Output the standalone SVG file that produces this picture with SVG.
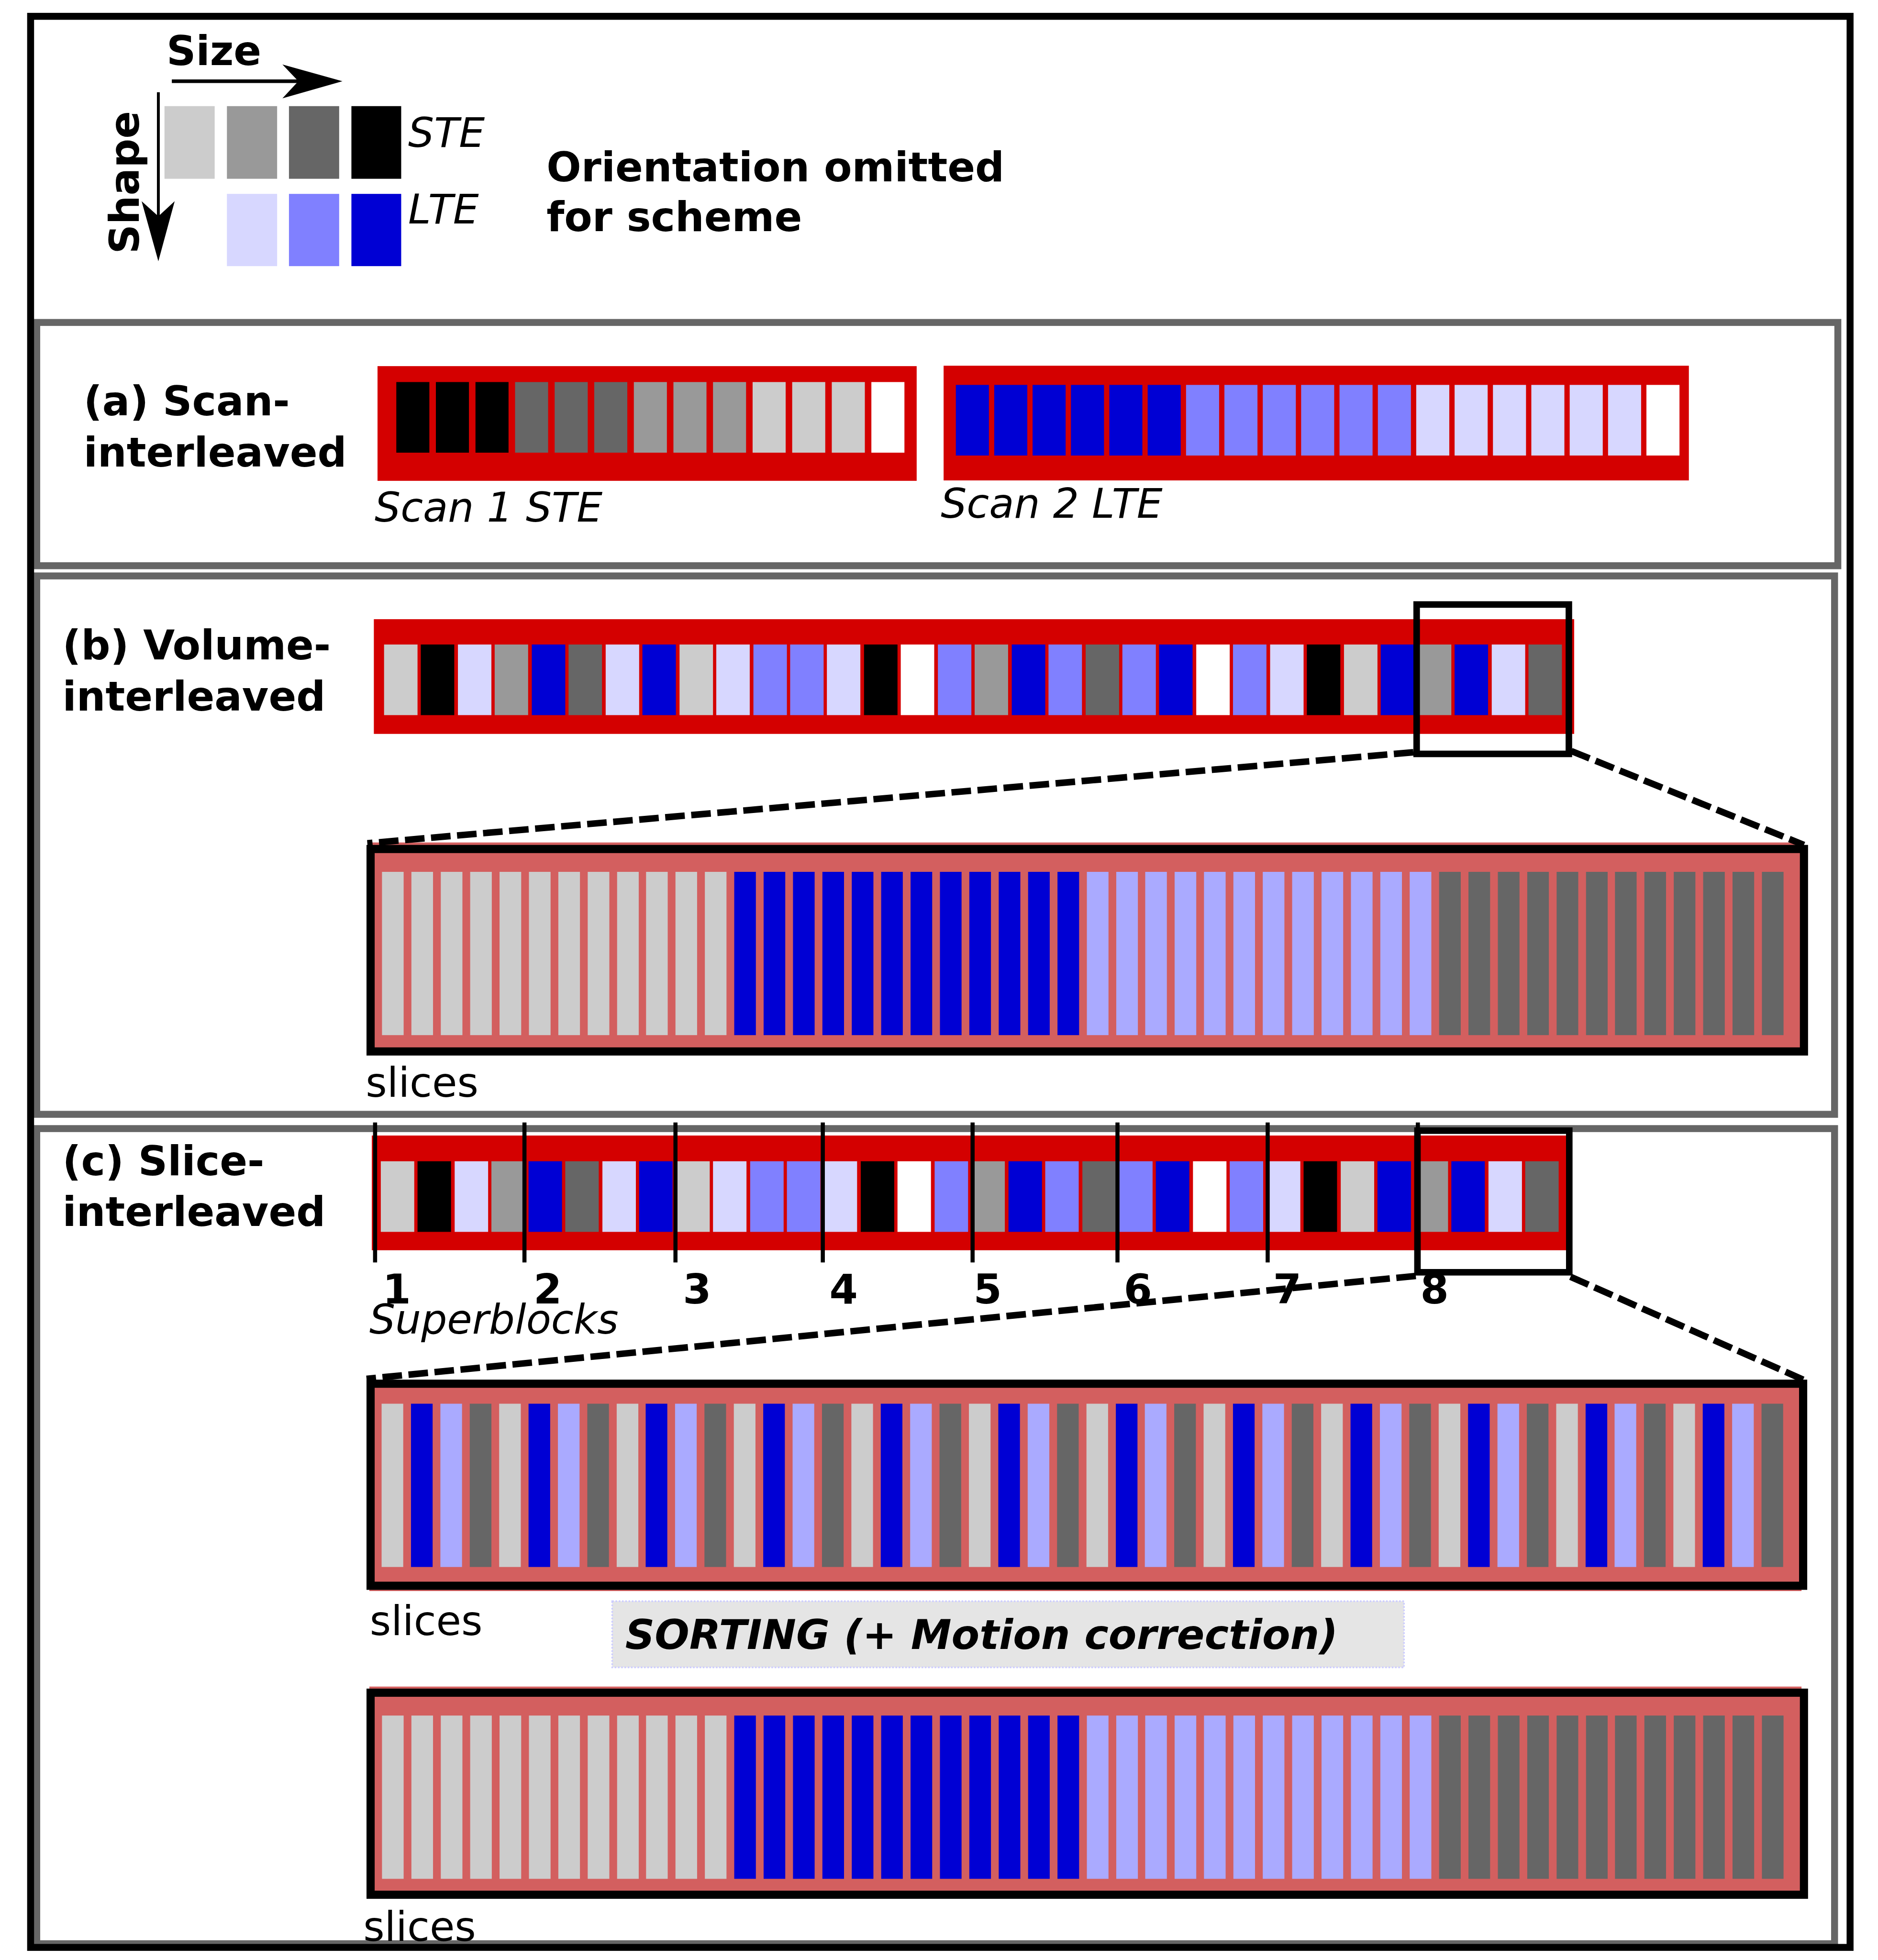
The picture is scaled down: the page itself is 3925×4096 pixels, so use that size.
<svg xmlns="http://www.w3.org/2000/svg" width="3925" height="4096" viewBox="0 0 3925 4096">
<style>
text{font-family:"DejaVu Sans","Liberation Sans",sans-serif;font-size:100px;fill:#000}
.bold{font-weight:bold}
.it{font-style:italic}
.g1{fill:#cccccc}.g2{fill:#999999}.g3{fill:#666666}.k{fill:#000000}.w{fill:#ffffff}
.b1{fill:#d7d7ff}.b2{fill:#8080ff}.b3{fill:#0000d4}.b4{fill:#aaaaff}
.red{fill:#d40000}.sal{fill:#d35f5f}
.panel{fill:none;stroke:#666666;stroke-width:17}
.outer{fill:none;stroke:#000000;stroke-width:17}
.frame{fill:none;stroke:#000000;stroke-width:20}
.zoombox{fill:none;stroke:#000000;stroke-width:16}
.dash{fill:none;stroke:#000000;stroke-width:16;stroke-dasharray:48,16}
.sb{stroke:#000000;stroke-width:10}
.sort{fill:#e5e5e5;stroke:#ccccff;stroke-width:4;stroke-dasharray:4,4}
</style>
<defs>
<g id="seq32">
<rect class="g1" x="0" width="82" height="173"/>
<rect class="k" x="90" width="82" height="173"/>
<rect class="b1" x="181" width="82" height="173"/>
<rect class="g2" x="271" width="82" height="173"/>
<rect class="b3" x="362" width="82" height="173"/>
<rect class="g3" x="452" width="82" height="173"/>
<rect class="b1" x="543" width="82" height="173"/>
<rect class="b3" x="633" width="82" height="173"/>
<rect class="g1" x="724" width="82" height="173"/>
<rect class="b1" x="814" width="82" height="173"/>
<rect class="b2" x="905" width="82" height="173"/>
<rect class="b2" x="995" width="82" height="173"/>
<rect class="b1" x="1085" width="82" height="173"/>
<rect class="k" x="1176" width="82" height="173"/>
<rect class="w" x="1266" width="82" height="173"/>
<rect class="b2" x="1357" width="82" height="173"/>
<rect class="g2" x="1447" width="82" height="173"/>
<rect class="b3" x="1538" width="82" height="173"/>
<rect class="b2" x="1628" width="82" height="173"/>
<rect class="g3" x="1719" width="82" height="173"/>
<rect class="b2" x="1809" width="82" height="173"/>
<rect class="b3" x="1899" width="82" height="173"/>
<rect class="w" x="1990" width="82" height="173"/>
<rect class="b2" x="2080" width="82" height="173"/>
<rect class="b1" x="2171" width="82" height="173"/>
<rect class="k" x="2261" width="82" height="173"/>
<rect class="g1" x="2352" width="82" height="173"/>
<rect class="b3" x="2442" width="82" height="173"/>
<rect class="g2" x="2533" width="82" height="173"/>
<rect class="b3" x="2623" width="82" height="173"/>
<rect class="b1" x="2714" width="82" height="173"/>
<rect class="g3" x="2804" width="82" height="173"/>
</g>
<g id="sorted">
<rect class="g1" x="0" width="53" height="400"/>
<rect class="g1" x="72" width="53" height="400"/>
<rect class="g1" x="144" width="53" height="400"/>
<rect class="g1" x="216" width="53" height="400"/>
<rect class="g1" x="288" width="53" height="400"/>
<rect class="g1" x="360" width="53" height="400"/>
<rect class="g1" x="432" width="53" height="400"/>
<rect class="g1" x="504" width="53" height="400"/>
<rect class="g1" x="576" width="53" height="400"/>
<rect class="g1" x="647" width="53" height="400"/>
<rect class="g1" x="719" width="53" height="400"/>
<rect class="g1" x="791" width="53" height="400"/>
<rect class="b3" x="863" width="53" height="400"/>
<rect class="b3" x="935" width="53" height="400"/>
<rect class="b3" x="1007" width="53" height="400"/>
<rect class="b3" x="1079" width="53" height="400"/>
<rect class="b3" x="1151" width="53" height="400"/>
<rect class="b3" x="1223" width="53" height="400"/>
<rect class="b3" x="1295" width="53" height="400"/>
<rect class="b3" x="1367" width="53" height="400"/>
<rect class="b3" x="1439" width="53" height="400"/>
<rect class="b3" x="1511" width="53" height="400"/>
<rect class="b3" x="1583" width="53" height="400"/>
<rect class="b3" x="1655" width="53" height="400"/>
<rect class="b4" x="1727" width="53" height="400"/>
<rect class="b4" x="1799" width="53" height="400"/>
<rect class="b4" x="1870" width="53" height="400"/>
<rect class="b4" x="1942" width="53" height="400"/>
<rect class="b4" x="2014" width="53" height="400"/>
<rect class="b4" x="2086" width="53" height="400"/>
<rect class="b4" x="2158" width="53" height="400"/>
<rect class="b4" x="2230" width="53" height="400"/>
<rect class="b4" x="2302" width="53" height="400"/>
<rect class="b4" x="2374" width="53" height="400"/>
<rect class="b4" x="2446" width="53" height="400"/>
<rect class="b4" x="2518" width="53" height="400"/>
<rect class="g3" x="2590" width="53" height="400"/>
<rect class="g3" x="2662" width="53" height="400"/>
<rect class="g3" x="2734" width="53" height="400"/>
<rect class="g3" x="2806" width="53" height="400"/>
<rect class="g3" x="2878" width="53" height="400"/>
<rect class="g3" x="2950" width="53" height="400"/>
<rect class="g3" x="3021" width="53" height="400"/>
<rect class="g3" x="3093" width="53" height="400"/>
<rect class="g3" x="3165" width="53" height="400"/>
<rect class="g3" x="3237" width="53" height="400"/>
<rect class="g3" x="3309" width="53" height="400"/>
<rect class="g3" x="3381" width="53" height="400"/>
</g>
<g id="mixed">
<rect class="g1" x="0" width="53" height="400"/>
<rect class="b3" x="72" width="53" height="400"/>
<rect class="b4" x="144" width="53" height="400"/>
<rect class="g3" x="216" width="53" height="400"/>
<rect class="g1" x="288" width="53" height="400"/>
<rect class="b3" x="360" width="53" height="400"/>
<rect class="b4" x="432" width="53" height="400"/>
<rect class="g3" x="504" width="53" height="400"/>
<rect class="g1" x="576" width="53" height="400"/>
<rect class="b3" x="647" width="53" height="400"/>
<rect class="b4" x="719" width="53" height="400"/>
<rect class="g3" x="791" width="53" height="400"/>
<rect class="g1" x="863" width="53" height="400"/>
<rect class="b3" x="935" width="53" height="400"/>
<rect class="b4" x="1007" width="53" height="400"/>
<rect class="g3" x="1079" width="53" height="400"/>
<rect class="g1" x="1151" width="53" height="400"/>
<rect class="b3" x="1223" width="53" height="400"/>
<rect class="b4" x="1295" width="53" height="400"/>
<rect class="g3" x="1367" width="53" height="400"/>
<rect class="g1" x="1439" width="53" height="400"/>
<rect class="b3" x="1511" width="53" height="400"/>
<rect class="b4" x="1583" width="53" height="400"/>
<rect class="g3" x="1655" width="53" height="400"/>
<rect class="g1" x="1727" width="53" height="400"/>
<rect class="b3" x="1799" width="53" height="400"/>
<rect class="b4" x="1870" width="53" height="400"/>
<rect class="g3" x="1942" width="53" height="400"/>
<rect class="g1" x="2014" width="53" height="400"/>
<rect class="b3" x="2086" width="53" height="400"/>
<rect class="b4" x="2158" width="53" height="400"/>
<rect class="g3" x="2230" width="53" height="400"/>
<rect class="g1" x="2302" width="53" height="400"/>
<rect class="b3" x="2374" width="53" height="400"/>
<rect class="b4" x="2446" width="53" height="400"/>
<rect class="g3" x="2518" width="53" height="400"/>
<rect class="g1" x="2590" width="53" height="400"/>
<rect class="b3" x="2662" width="53" height="400"/>
<rect class="b4" x="2734" width="53" height="400"/>
<rect class="g3" x="2806" width="53" height="400"/>
<rect class="g1" x="2878" width="53" height="400"/>
<rect class="b3" x="2950" width="53" height="400"/>
<rect class="b4" x="3021" width="53" height="400"/>
<rect class="g3" x="3093" width="53" height="400"/>
<rect class="g1" x="3165" width="53" height="400"/>
<rect class="b3" x="3237" width="53" height="400"/>
<rect class="b4" x="3309" width="53" height="400"/>
<rect class="g3" x="3381" width="53" height="400"/>
</g>
</defs>
<rect x="0" y="0" width="3925" height="4096" fill="#ffffff"/>
<g transform="scale(0.853)">
<g id="panels">
<rect id="panel-a-border" class="panel" x="90" y="790" width="4413" height="596"/>
<rect id="panel-b-border" class="panel" x="90" y="1411" width="4405" height="1319"/>
<rect id="panel-c-border" class="panel" x="90" y="2765" width="4405" height="1997"/>
<rect id="outer-border" class="outer" x="75" y="40" width="4458" height="4731"/>
</g>
<g id="legend">
<text class="bold" x="408" y="160">Size</text>
<line x1="421" y1="199" x2="736" y2="199" stroke="#000" stroke-width="9"/>
<polygon points="692,158 839,199 692,241 731,199" fill="#000"/>
<line x1="388" y1="226" x2="388" y2="535" stroke="#000" stroke-width="7"/>
<polygon points="347,493 388,640 428,493 388,530" fill="#000"/>
<text class="bold" transform="translate(340,622) rotate(-90)">Shape</text>
<rect class="g1" x="403" y="260" width="123" height="178"/>
<rect class="g2" x="556" y="260" width="123" height="178"/>
<rect class="g3" x="708" y="260" width="123" height="178"/>
<rect class="k" x="861" y="260" width="122" height="178"/>
<rect class="b1" x="556" y="475" width="123" height="177"/>
<rect class="b2" x="708" y="475" width="123" height="177"/>
<rect class="b3" x="861" y="475" width="122" height="177"/>
<text class="it" x="1000" y="360">STE</text>
<text class="it" x="1000" y="548">LTE</text>
<text class="bold" x="1339" y="444">Orientation omitted</text>
<text class="bold" x="1339" y="566">for scheme</text>
</g>
<g id="panel-a">
<text class="bold" x="205" y="1018">(a) Scan-</text>
<text class="bold" x="205" y="1143">interleaved</text>
<g id="scan1">
<rect class="red" x="925" y="897" width="1321" height="281"/>
<rect class="k" x="971" y="936" width="81" height="173"/>
<rect class="k" x="1068" y="936" width="81" height="173"/>
<rect class="k" x="1165" y="936" width="81" height="173"/>
<rect class="g3" x="1262" y="936" width="81" height="173"/>
<rect class="g3" x="1359" y="936" width="81" height="173"/>
<rect class="g3" x="1456" y="936" width="81" height="173"/>
<rect class="g2" x="1553" y="936" width="81" height="173"/>
<rect class="g2" x="1650" y="936" width="81" height="173"/>
<rect class="g2" x="1747" y="936" width="81" height="173"/>
<rect class="g1" x="1844" y="936" width="81" height="173"/>
<rect class="g1" x="1941" y="936" width="81" height="173"/>
<rect class="g1" x="2038" y="936" width="81" height="173"/>
<rect class="w" x="2135" y="936" width="81" height="173"/>
</g>
<text class="it" x="918" y="1278">Scan 1 STE</text>
<g id="scan2">
<rect class="red" x="2312" y="896" width="1826" height="281"/>
<rect class="b3" x="2342" y="943" width="81" height="173"/>
<rect class="b3" x="2436" y="943" width="81" height="173"/>
<rect class="b3" x="2530" y="943" width="81" height="173"/>
<rect class="b3" x="2624" y="943" width="81" height="173"/>
<rect class="b3" x="2718" y="943" width="81" height="173"/>
<rect class="b3" x="2812" y="943" width="81" height="173"/>
<rect class="b2" x="2906" y="943" width="81" height="173"/>
<rect class="b2" x="3000" y="943" width="81" height="173"/>
<rect class="b2" x="3094" y="943" width="81" height="173"/>
<rect class="b2" x="3188" y="943" width="81" height="173"/>
<rect class="b2" x="3282" y="943" width="81" height="173"/>
<rect class="b2" x="3376" y="943" width="81" height="173"/>
<rect class="b1" x="3470" y="943" width="81" height="173"/>
<rect class="b1" x="3564" y="943" width="81" height="173"/>
<rect class="b1" x="3658" y="943" width="81" height="173"/>
<rect class="b1" x="3752" y="943" width="81" height="173"/>
<rect class="b1" x="3846" y="943" width="81" height="173"/>
<rect class="b1" x="3940" y="943" width="81" height="173"/>
<rect class="w" x="4034" y="943" width="81" height="173"/>
</g>
<text class="it" x="2305" y="1268">Scan 2 LTE</text>
</g>
<g id="panel-b">
<text class="bold" x="153" y="1616">(b) Volume-</text>
<text class="bold" x="153" y="1741">interleaved</text>
<g id="volume-bar">
<rect class="red" x="916" y="1517" width="2941" height="281"/>
<use href="#seq32" x="941" y="1579"/>
</g>
<rect id="zoom-box-b" class="zoombox" x="3471" y="1481" width="373" height="366"/>
<g id="sorted-b">
<rect class="sal" x="905" y="2064" width="3509" height="508"/>
<rect class="frame" x="908" y="2080" width="3512" height="496"/>
<use href="#sorted" x="936" y="2136"/>
</g>
<text x="896" y="2687">slices</text>
</g>
<g id="panel-c">
<text class="bold" x="153" y="2879">(c) Slice-</text>
<text class="bold" x="153" y="3004">interleaved</text>
<g id="slice-bar">
<rect class="red" x="911" y="2782" width="2932" height="281"/>
<use href="#seq32" x="933" y="2845"/>
</g>
<g id="superblock-lines">
<line class="sb" x1="919" y1="2750" x2="919" y2="3093"/>
<line class="sb" x1="1285" y1="2750" x2="1285" y2="3093"/>
<line class="sb" x1="1655" y1="2750" x2="1655" y2="3093"/>
<line class="sb" x1="2016" y1="2750" x2="2016" y2="3093"/>
<line class="sb" x1="2383" y1="2750" x2="2383" y2="3093"/>
<line class="sb" x1="2738" y1="2750" x2="2738" y2="3093"/>
<line class="sb" x1="3106" y1="2750" x2="3106" y2="3093"/>
<line class="sb" x1="3474" y1="2750" x2="3474" y2="3093"/>
</g>
<g id="superblock-numbers" class="bold" text-anchor="middle">
<text class="bold" x="972" y="3194">1</text>
<text class="bold" x="1342" y="3194">2</text>
<text class="bold" x="1708" y="3194">3</text>
<text class="bold" x="2067" y="3194">4</text>
<text class="bold" x="2420" y="3194">5</text>
<text class="bold" x="2788" y="3194">6</text>
<text class="bold" x="3154" y="3194">7</text>
<text class="bold" x="3515" y="3194">8</text>
</g>
<text class="it" x="905" y="3267">Superblocks</text>
<rect id="zoom-box-c" class="zoombox" x="3473" y="2770" width="372" height="347"/>
<g id="slices-c1">
<rect class="sal" x="905" y="3386" width="3509" height="512"/>
<rect class="frame" x="908" y="3390" width="3510" height="495"/>
<use href="#mixed" x="935" y="3439"/>
</g>
<text x="906" y="4006">slices</text>
<g id="sorting">
<rect class="sort" x="1500" y="3923" width="1940" height="162"/>
<text class="bold it" x="1532" y="4040">SORTING (+ Motion correction)</text>
</g>
<g id="slices-c2">
<rect class="sal" x="905" y="4132" width="3509" height="510"/>
<rect class="frame" x="908" y="4147" width="3512" height="495"/>
<use href="#sorted" x="936" y="4203"/>
</g>
<text x="890" y="4755">slices</text>
</g>
<g id="connectors">
<line class="dash" x1="3463" y1="1843" x2="900" y2="2066"/>
<line class="dash" x1="3850" y1="1840" x2="4420" y2="2070"/>
<line class="dash" x1="3469" y1="3126" x2="898" y2="3378"/>
<line class="dash" x1="3848" y1="3128" x2="4418" y2="3380"/>
</g>
</g>
</svg>
